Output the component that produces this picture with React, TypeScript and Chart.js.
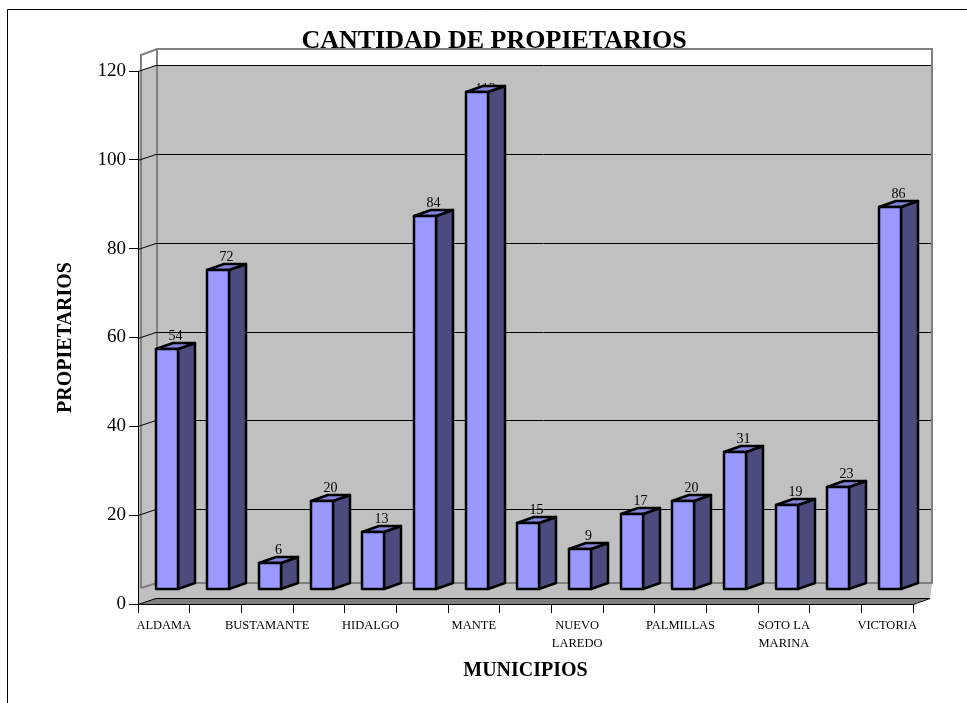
import React, { useEffect, useRef } from "react";
import { Chart, registerables } from "chart.js";

Chart.register(...registerables);

const TITLE = "CANTIDAD DE PROPIETARIOS";
const Y_TITLE = "PROPIETARIOS";
const X_TITLE = "MUNICIPIOS";

const municipios: (string | string[])[] = [
  "ALDAMA",
  "ALTAMIRA",
  "BUSTAMANTE",
  "GÓMEZ FARÍAS",
  "HIDALGO",
  "LLERA",
  "MANTE",
  "MIQUIHUANA",
  ["NUEVO", "LAREDO"],
  "OCAMPO",
  "PALMILLAS",
  "SAN CARLOS",
  ["SOTO LA", "MARINA"],
  "TULA",
  "VICTORIA",
];

const propietarios = [54, 72, 6, 20, 13, 84, 112, 15, 9, 17, 20, 31, 19, 23, 86];

const yTicks = [0, 20, 40, 60, 80, 100, 120];

const FONT = "'Times New Roman', 'Liberation Serif', serif";

const FRONT = "#9999FF";
const SIDE = "#4B4B7E";
const TOP = "#8383DC";
const WALL = "#C0C0C0";
const WALL_LINE = "#808080";
const SLAB = "#808080";

const excel3d = {
  id: "excel3d",
  beforeDraw(chart: any) {
    const { ctx, chartArea: a } = chart;
    const ys = chart.scales.y;
    const L = a.left, R = a.right, T = a.top, B = a.bottom;
    const bx0 = L + 19, bx1 = R + 19;
    const wallTop = T - 6, wallBottom = B - 21;
    ctx.save();
    // outer frame
    ctx.strokeStyle = "#000";
    ctx.lineWidth = 1;
    ctx.beginPath();
    ctx.moveTo(7.5, chart.height);
    ctx.lineTo(7.5, 9.5);
    ctx.lineTo(chart.width, 9.5);
    ctx.stroke();

    // title
    ctx.fillStyle = "#000";
    ctx.font = `bold 26px ${FONT}`;
    ctx.textAlign = "center";
    ctx.textBaseline = "middle";
    ctx.fillText(TITLE, 494, 41);

    // walls gray fill
    ctx.fillStyle = WALL;
    ctx.beginPath();
    ctx.moveTo(L + 1, T);
    ctx.lineTo(bx0, wallTop);
    ctx.lineTo(bx1, wallTop);
    ctx.lineTo(bx1, wallBottom);
    ctx.lineTo(R + 17, B - 6);
    ctx.lineTo(L + 18, B - 6);
    ctx.lineTo(L + 1, B);
    ctx.closePath();
    ctx.fill();

    // floor slab
    ctx.fillStyle = SLAB;
    ctx.beginPath();
    ctx.moveTo(L + 1, B);
    ctx.lineTo(L + 18, B - 6);
    ctx.lineTo(R + 17, B - 6);
    ctx.lineTo(R, B);
    ctx.closePath();
    ctx.fill();

    // wall outlines
    ctx.strokeStyle = WALL_LINE;
    ctx.lineWidth = 2;
    ctx.beginPath();
    ctx.moveTo(L + 3, B - 16);
    ctx.lineTo(L + 3, T - 16);
    ctx.lineTo(bx0, T - 22);
    ctx.lineTo(bx1, T - 22);
    ctx.lineTo(bx1, wallBottom);
    ctx.lineTo(bx0, wallBottom);
    ctx.lineTo(L + 3, B - 16);
    ctx.moveTo(bx0, T - 22);
    ctx.lineTo(bx0, wallBottom);
    ctx.stroke();

    // gridlines on side + back wall
    ctx.strokeStyle = "#000";
    ctx.lineWidth = 1;
    for (const v of yTicks) {
      const py = Math.round(ys.getPixelForValue(v)) + 0.5;
      ctx.beginPath();
      ctx.moveTo(L, py);
      if (v === 0) {
        ctx.lineTo(L + 18, py - 6);
        ctx.lineTo(R + 17, py - 6);
        ctx.lineTo(R, py);
      } else {
        ctx.lineTo(bx0 - 1, py - 6);
        ctx.lineTo(bx1 - 1, py - 6);
      }
      ctx.stroke();
    }
    ctx.restore();
  },
  afterDatasetsDraw(chart: any) {
    const { ctx, chartArea: a } = chart;
    const meta = chart.getDatasetMeta(0);
    const DX = 17, DY = -6;
    const boxes = meta.data.map((bar: any, i: number) => {
      const p = bar.getProps(["x", "y", "base", "width"], true);
      const left = Math.round(p.x - p.width / 2 + 3);
      const right = Math.round(left + p.width);
      return { left, right, top: Math.round(p.y), bottom: Math.round(p.base), v: propietarios[i] };
    });
    ctx.save();
    // data labels (behind bars)
    ctx.fillStyle = "#000";
    ctx.font = `14px ${FONT}`;
    ctx.textAlign = "center";
    ctx.textBaseline = "alphabetic";
    for (const b of boxes) {
      const ly = Math.max(b.top - 9, a.top + 22);
      ctx.fillText(String(b.v), (b.left + b.right) / 2 + DX / 2, ly);
    }
    ctx.lineWidth = 2.5;
    ctx.lineJoin = "round";
    ctx.strokeStyle = "#000";
    for (const b of boxes) {
      // side face
      ctx.fillStyle = SIDE;
      ctx.beginPath();
      ctx.moveTo(b.right, b.bottom);
      ctx.lineTo(b.right + DX, b.bottom + DY);
      ctx.lineTo(b.right + DX, b.top + DY);
      ctx.lineTo(b.right, b.top);
      ctx.closePath();
      ctx.fill();
      ctx.stroke();
      // top face
      ctx.fillStyle = TOP;
      ctx.beginPath();
      ctx.moveTo(b.left, b.top);
      ctx.lineTo(b.left + DX, b.top + DY);
      ctx.lineTo(b.right + DX, b.top + DY);
      ctx.lineTo(b.right, b.top);
      ctx.closePath();
      ctx.fill();
      ctx.stroke();
      // front face
      ctx.fillStyle = FRONT;
      ctx.fillRect(b.left, b.top, b.right - b.left, b.bottom - b.top);
      ctx.strokeRect(b.left, b.top, b.right - b.left, b.bottom - b.top);
    }
    ctx.restore();
  },
};

export default function App() {
  const ref = useRef<HTMLCanvasElement | null>(null);
  useEffect(() => {
    if (!ref.current) return;
    const chart = new Chart(ref.current, {
      type: "bar",
      data: {
        labels: municipios as any,
        datasets: [
          {
            data: propietarios,
            yAxisID: "yb",
            backgroundColor: "rgba(0,0,0,0)",
            borderWidth: 0,
            barPercentage: 0.43,
            categoryPercentage: 1,
          },
        ],
      },
      options: {
        responsive: false,
        animation: false,
        devicePixelRatio: 1,
        layout: { padding: { left: 0, right: 54, top: 71, bottom: 0 } },
        plugins: {
          legend: { display: false },
          tooltip: { enabled: false },
          title: { display: false },
        },
        scales: {
          x: {
            offset: true,
            grid: {
              offset: true,
              drawOnChartArea: false,
              drawTicks: true,
              tickLength: 9,
              color: "#000",
              lineWidth: 1,
            },
            border: { display: true, color: "#000", width: 1 },
            ticks: {
              autoSkip: false,
              maxRotation: 0,
              minRotation: 0,
              padding: 4,
              color: "#000",
              font: { family: FONT, size: 12.5, lineHeight: 1.4 },
              callback: (_v: any, i: number) => (i % 2 === 0 ? (municipios[i] as any) : ""),
            },
            title: {
              display: true,
              text: X_TITLE,
              color: "#000",
              font: { family: FONT, size: 20, weight: "bold", lineHeight: 1.2 },
              padding: { top: 0, bottom: 20 },
            },
            afterFit: (s: any) => {
              s.height = 99;
            },
          },
          y: {
            position: "left",
            min: 0,
            max: 120,
            grid: {
              drawOnChartArea: false,
              drawTicks: true,
              tickLength: 9,
              color: "#000",
              lineWidth: 1,
            },
            border: { display: true, color: "#000", width: 1 },
            ticks: {
              stepSize: 20,
              padding: 3,
              color: "#000",
              font: { family: FONT, size: 19 },
            },
            title: {
              display: true,
              text: Y_TITLE,
              color: "#000",
              font: { family: FONT, size: 20, weight: "bold", lineHeight: 1.2 },
              padding: { top: 54, bottom: 0 },
            },
            afterFit: (s: any) => {
              s.width = 138;
            },
          },
          yb: {
            display: false,
            min: -3.3,
            max: 116.7,
          },
        },
      } as any,
      plugins: [excel3d],
    });
    return () => chart.destroy();
  }, []);
  return (
    <div
      style={{
        position: "fixed",
        left: 0,
        top: 0,
        width: 967,
        height: 703,
        background: "#fff",
      }}
    >
      <canvas ref={ref} width={967} height={703} style={{ display: "block" }} />
    </div>
  );
}
